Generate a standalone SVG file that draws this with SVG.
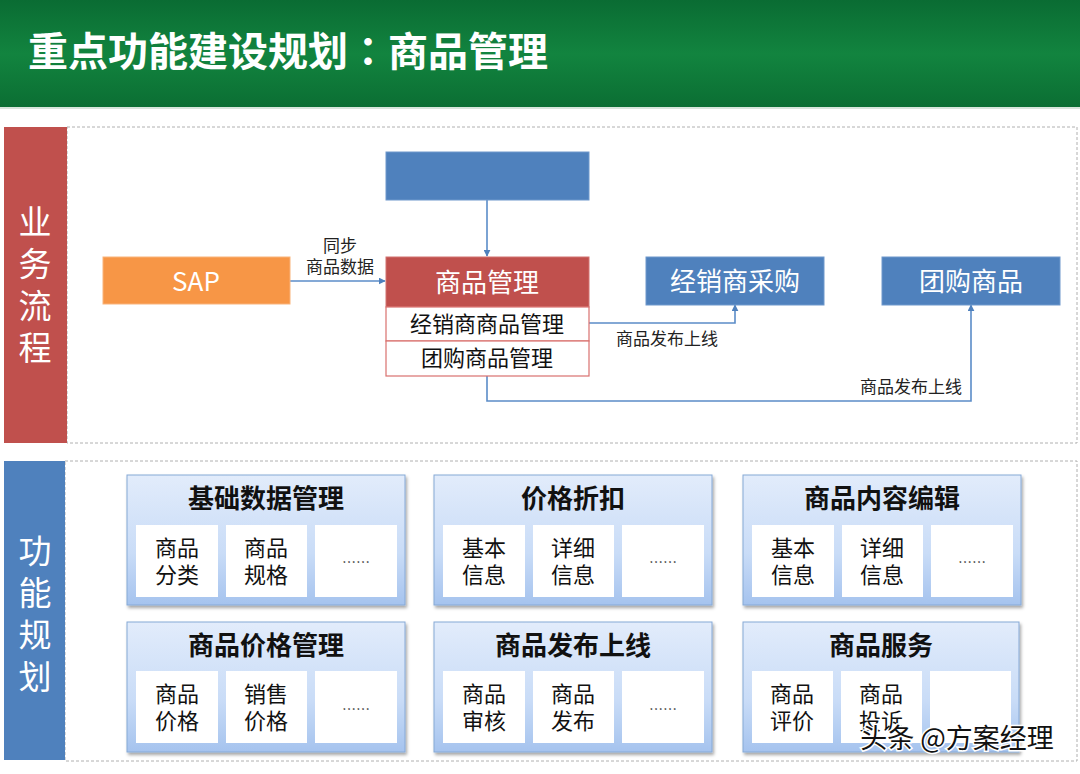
<svg xmlns="http://www.w3.org/2000/svg" width="1080" height="774" viewBox="0 0 1080 774">
<defs>
<linearGradient id="hdr" x1="0" y1="0" x2="0" y2="1">
<stop offset="0" stop-color="#0a6c33"/>
<stop offset="0.5" stop-color="#12843f"/>
<stop offset="1" stop-color="#0b6e33"/>
</linearGradient>
<linearGradient id="pnl" x1="0" y1="0" x2="0" y2="1">
<stop offset="0" stop-color="#e2ecfb"/>
<stop offset="0.6" stop-color="#c9dcf7"/>
<stop offset="1" stop-color="#a5c3ee"/>
</linearGradient>
<filter id="sh" x="-5%" y="-5%" width="112%" height="115%">
<feDropShadow dx="1.5" dy="2.5" stdDeviation="1.5" flood-color="#000" flood-opacity="0.35"/>
</filter>
<marker id="ah" viewBox="0 0 10 10" refX="9" refY="5" markerWidth="7" markerHeight="7" markerUnits="userSpaceOnUse" orient="auto">
<path d="M0,0 L10,5 L0,10 z" fill="#4f81bd"/>
</marker>
<style>
.cjk{font-family:"Noto Sans CJK SC","Noto Sans",sans-serif}
.side{font-family:"Noto Sans CJK SC",sans-serif;font-size:33px;fill:#fff;text-anchor:middle;writing-mode:vertical-rl;letter-spacing:9px}
.wt{fill:#fff;text-anchor:middle;dominant-baseline:central}
.bk{fill:#111;text-anchor:middle;dominant-baseline:central}
.conn{fill:none;stroke:#5b8cc8;stroke-width:1.6}
.lbl{font-family:"Noto Sans CJK SC",sans-serif;font-size:17px;fill:#222;text-anchor:middle;dominant-baseline:central}
.panel{fill:url(#pnl);stroke:#86a9d6;stroke-width:1;filter:url(#sh)}
.sub{fill:#fff}
.ptitle{font-family:"Noto Sans CJK SC",sans-serif;font-size:26px;font-weight:bold;fill:#111;text-anchor:middle;dominant-baseline:central}
.stext{font-family:"Noto Sans CJK SC",sans-serif;font-size:22px;fill:#111;text-anchor:middle;dominant-baseline:central}
.dots{font-family:"Noto Sans CJK SC",sans-serif;font-size:14px;fill:#333;text-anchor:middle;dominant-baseline:central}
.dash{fill:none;stroke:#b0b0b0;stroke-width:1;stroke-dasharray:3 2}
</style>
</defs>
<rect x="0" y="0" width="1080" height="774" fill="#fff"/>
<g id="header">
<rect x="0" y="0" width="1080" height="108" fill="url(#hdr)"/>
<rect x="0" y="107" width="1080" height="2" fill="#d8e6dc"/>
<text x="28" y="66" class="cjk" font-size="40" font-weight="bold" fill="#fff">重点功能建设规划<tspan font-family="Noto Sans CJK TC, sans-serif">：</tspan>商品管理</text>
</g>
<g id="section-business">
<rect x="67" y="127" width="1010" height="316" class="dash"/>
<rect x="4" y="127" width="63" height="316" fill="#c0504d"/>
<text class="side" x="35" y="289">业务流程</text>
</g>
<g id="section-function">
<rect x="65" y="461" width="1012" height="300" class="dash"/>
<rect x="4" y="461" width="61" height="299" fill="#4f81bd"/>
<text class="side" x="35" y="618">功能规划</text>
</g>
<g id="connectors">
<line class="conn" x1="487" y1="200" x2="487" y2="256" marker-end="url(#ah)"/>
<line class="conn" x1="290" y1="281" x2="385" y2="281" marker-end="url(#ah)"/>
<polyline class="conn" points="589,323 735,323 735,305" marker-end="url(#ah)"/>
<polyline class="conn" points="487,376 487,401 971,401 971,305" marker-end="url(#ah)"/>
<text class="lbl" x="340" y="244">同步<tspan x="340" dy="21">商品数据</tspan></text>
<text class="lbl" x="667" y="337">商品发布上线</text>
<text class="lbl" x="911" y="385">商品发布上线</text>
</g>
<g id="node-top">
<rect x="386" y="152" width="203" height="48" fill="#4f81bd" stroke="#6f98cc" stroke-width="1"/>
</g>
<g id="node-sap">
<rect x="103" y="257" width="187" height="47" fill="#f79646" stroke="#f9b37a" stroke-width="1"/>
<text class="cjk wt" x="196" y="279" font-size="26">SAP</text>
</g>
<g id="node-goods-mgmt">
<rect x="386" y="257" width="203" height="50" fill="#c0504d" stroke="#d27370" stroke-width="1"/>
<text class="cjk wt" x="487" y="280" font-size="26">商品管理</text>
</g>
<g id="node-dealer-goods">
<rect x="386" y="307" width="203" height="34" fill="#fff" stroke="#d9716e" stroke-width="1.2"/>
<text class="cjk bk" x="487" y="322" font-size="22">经销商商品管理</text>
</g>
<g id="node-group-goods-mgmt">
<rect x="386" y="341" width="203" height="35" fill="#fff" stroke="#d9716e" stroke-width="1.2"/>
<text class="cjk bk" x="487" y="356" font-size="22">团购商品管理</text>
</g>
<g id="node-dealer-purchase">
<rect x="646" y="257" width="178" height="48" fill="#4f81bd" stroke="#6f98cc" stroke-width="1"/>
<text class="cjk wt" x="735" y="279" font-size="26">经销商采购</text>
</g>
<g id="node-group-goods">
<rect x="882" y="257" width="178" height="48" fill="#4f81bd" stroke="#6f98cc" stroke-width="1"/>
<text class="cjk wt" x="971" y="279" font-size="26">团购商品</text>
</g>
<g id="panel-basic-data">
<rect class="panel" x="127" y="475" width="278" height="130"/>
<text class="ptitle" x="266" y="496">基础数据管理</text>
<rect class="sub" x="136" y="525" width="82" height="72"/>
<rect class="sub" x="226" y="525" width="81" height="72"/>
<rect class="sub" x="315" y="525" width="82" height="72"/>
<text class="stext" x="177" y="546">商品<tspan x="177" dy="27">分类</tspan></text>
<text class="stext" x="266" y="546">商品<tspan x="266" dy="27">规格</tspan></text>
<text class="dots" x="356" y="561">……</text>
</g>
<g id="panel-price-discount">
<rect class="panel" x="434" y="475" width="278" height="130"/>
<text class="ptitle" x="573" y="496">价格折扣</text>
<rect class="sub" x="443" y="525" width="82" height="72"/>
<rect class="sub" x="533" y="525" width="81" height="72"/>
<rect class="sub" x="622" y="525" width="82" height="72"/>
<text class="stext" x="484" y="546">基本<tspan x="484" dy="27">信息</tspan></text>
<text class="stext" x="573" y="546">详细<tspan x="573" dy="27">信息</tspan></text>
<text class="dots" x="663" y="561">……</text>
</g>
<g id="panel-content-edit">
<rect class="panel" x="743" y="475" width="278" height="130"/>
<text class="ptitle" x="882" y="496">商品内容编辑</text>
<rect class="sub" x="752" y="525" width="82" height="72"/>
<rect class="sub" x="842" y="525" width="81" height="72"/>
<rect class="sub" x="931" y="525" width="82" height="72"/>
<text class="stext" x="793" y="546">基本<tspan x="793" dy="27">信息</tspan></text>
<text class="stext" x="882" y="546">详细<tspan x="882" dy="27">信息</tspan></text>
<text class="dots" x="972" y="561">……</text>
</g>
<g id="panel-price-mgmt">
<rect class="panel" x="127" y="622" width="278" height="130"/>
<text class="ptitle" x="266" y="643">商品价格管理</text>
<rect class="sub" x="136" y="671" width="82" height="72"/>
<rect class="sub" x="226" y="671" width="81" height="72"/>
<rect class="sub" x="315" y="671" width="82" height="72"/>
<text class="stext" x="177" y="692">商品<tspan x="177" dy="27">价格</tspan></text>
<text class="stext" x="266" y="692">销售<tspan x="266" dy="27">价格</tspan></text>
<text class="dots" x="356" y="708">……</text>
</g>
<g id="panel-publish">
<rect class="panel" x="434" y="622" width="278" height="130"/>
<text class="ptitle" x="573" y="643">商品发布上线</text>
<rect class="sub" x="443" y="671" width="82" height="72"/>
<rect class="sub" x="533" y="671" width="81" height="72"/>
<rect class="sub" x="622" y="671" width="82" height="72"/>
<text class="stext" x="484" y="692">商品<tspan x="484" dy="27">审核</tspan></text>
<text class="stext" x="573" y="692">商品<tspan x="573" dy="27">发布</tspan></text>
<text class="dots" x="663" y="708">……</text>
</g>
<g id="panel-service">
<rect class="panel" x="743" y="622" width="276" height="130"/>
<text class="ptitle" x="881" y="643">商品服务</text>
<rect class="sub" x="752" y="671" width="81" height="72"/>
<rect class="sub" x="841" y="671" width="81" height="72"/>
<rect class="sub" x="930" y="671" width="81" height="72"/>
<text class="stext" x="792" y="692">商品<tspan x="792" dy="27">评价</tspan></text>
<text class="stext" x="881" y="692">商品<tspan x="881" dy="27">投诉</tspan></text>
</g>
<g id="watermark">
<text x="957" y="736" class="cjk" font-size="27" fill="#111" stroke="#fff" stroke-width="3" paint-order="stroke" text-anchor="middle" dominant-baseline="central">头条 @方案经理</text>
</g>
</svg>
